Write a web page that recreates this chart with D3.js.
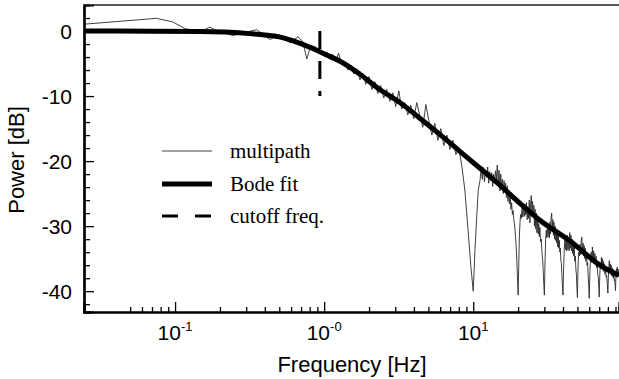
<!DOCTYPE html>
<html>
<head>
<meta charset="utf-8">
<script src="https://cdn.jsdelivr.net/npm/d3@7"></script>
<style>
  body { margin: 0; background: #fff; }
  svg { display: block; }
</style>
</head>
<body>
<div id="chart"></div>
<script>
// x tick decades and their labels
const xMajor = [0.1, 1, 10];
const xMajorExp = ["-1", "-0", "1"];
const xMinor = [0.05, 0.06, 0.07, 0.08, 0.09,
                0.2, 0.3, 0.4, 0.5, 0.6, 0.7, 0.8, 0.9,
                2, 3, 4, 5, 6, 7, 8, 9,
                20, 30, 40, 50, 60, 70, 80, 90];
const yMajor = [0, -10, -20, -30, -40];
const yMinor = [2, -2, -4, -6, -8, -12, -14, -16, -18, -22, -24, -26, -28,
                -32, -34, -36, -38, -42];

// Bode fit
const fitFreq = [0.0245, 0.07, 0.147, 0.233, 0.317, 0.40, 0.50, 0.59, 0.69, 0.80,
                 0.936, 1.09, 1.27, 1.73, 2.36, 3.22, 4.38, 5.97, 8.13, 11.1,
                 15.1, 20.6, 28.0, 44.6, 70.8, 95];
const fitDb = [0, -0.02, -0.08, -0.2, -0.4, -0.6, -0.9, -1.35, -1.9, -2.5,
               -3.2, -3.9, -4.6, -6.6, -9.0, -11.0, -13.4, -15.9, -18.5, -21.1,
               -23.7, -26.5, -29.1, -32.3, -36.0, -37.6];

// multipath measurement (Hz, dB)
const mpFreq = [0.0245, 0.075, 0.0965, 0.116, 0.135, 0.154, 0.171, 0.188, 0.216, 0.244,
  0.294, 0.353, 0.394, 0.432, 0.504, 0.545, 0.589, 0.666, 0.719, 0.765,
  0.814, 0.879, 0.936, 1.00, 1.04, 1.09, 1.14, 1.20, 1.25, 1.31,
  1.38, 1.44, 1.51, 1.58, 1.66, 1.74, 1.82, 1.90, 2.00, 2.09,
  2.19, 2.29, 2.40, 2.51, 2.63, 2.76, 2.89, 3.02, 3.17, 3.31,
  3.47, 3.64, 3.81, 3.99, 4.18, 4.38, 4.59, 4.81, 5.04, 5.28,
  5.53, 5.79, 6.06, 6.35, 6.66, 6.97, 7.30, 7.65, 8.01, 8.39,
  8.8, 9.2, 9.65, 10.0, 10.27, 10.55, 10.8,
  11.1, 11.3, 11.5, 11.7, 11.9, 12.1, 12.3, 12.5, 12.7, 12.9,
  13.1, 13.3, 13.5, 13.7, 13.9, 14.1, 14.3, 14.5, 14.7, 14.9,
  15.1, 15.3, 15.5, 15.7, 15.9, 16.1, 16.3, 16.5, 16.7, 16.9,
  17.1, 17.3, 17.5, 17.7, 17.9, 18.1, 18.3, 18.5, 18.7, 18.9,
  19.1, 19.3, 19.5, 19.7, 19.85, 20.0,
  20.2, 20.4, 20.6, 20.8, 21.0, 21.25, 21.5, 21.75, 22.0, 22.25,
  22.5, 22.75, 23.0, 23.25, 23.5, 23.75, 24.0, 24.25, 24.5, 24.75,
  25.0, 25.25, 25.5, 25.75, 26.0, 26.25, 26.5, 26.75, 27.0, 27.25,
  27.5, 27.75, 28.0, 28.3, 28.6, 28.9, 29.2, 29.5, 29.75, 30.0,
  30.3, 30.6, 30.9, 31.2, 31.5, 31.8, 32.1, 32.4, 32.7, 33.0,
  33.3, 33.6, 33.9, 34.2, 34.5, 34.8, 35.1, 35.4, 35.7, 36.0,
  36.3, 36.6, 36.9, 37.2, 37.5, 37.8, 38.1, 38.4, 38.7, 39.0,
  39.3, 39.6, 40.0,
  40.4, 40.8, 41.2, 41.6, 42.0, 42.4, 42.8, 43.2, 43.6, 44.0,
  44.4, 44.8, 45.2, 45.6, 46.0, 46.4, 46.8, 47.2, 47.6, 48.0,
  48.4, 48.8, 49.2, 49.6, 50.0,
  50.5, 51.0, 51.5, 52.0, 52.5, 53.0, 53.5, 54.0, 54.5, 55.0,
  55.5, 56.0, 56.5, 57.0, 57.5, 58.0, 58.5, 59.0, 59.5, 60.0,
  60.6, 61.2, 61.8, 62.4, 63.0, 63.6, 64.2, 64.8, 65.4, 66.0,
  66.6, 67.2, 67.8, 68.4, 69.0, 69.5, 70.0,
  70.6, 71.2, 71.8, 72.4, 73.0, 73.6, 74.2, 74.8, 75.4, 76.0,
  76.6, 77.2, 77.8, 78.4, 79.0, 79.5, 80.0,
  80.6, 81.2, 81.8, 82.4, 83.0, 83.6, 84.2, 84.8, 85.4, 86.0,
  86.6, 87.2, 87.8, 88.4, 89.0, 89.5, 90.0,
  90.6, 91.2, 91.8, 92.4, 93.0, 93.6, 94.2, 95.0];
const mpDb = [1.05, 1.95, 1.4, 0.4, 0.0, 0.1, 0.6, 0.1, -0.3, -0.7,
  -0.2, 0.2, -0.6, -1.3, -0.6, -1.2, -1.8, -0.9, -1.6, -4.3,
  -2.2, -2.5, -3.0, -3.6, -3.2, -4.3, -3.6, -4.5, -3.4, -5.2,
  -4.7, -6.0, -5.3, -6.6, -5.8, -7.5, -6.5, -8.2, -7.0, -9.0,
  -7.8, -9.6, -8.4, -10.3, -9.0, -10.8, -9.5, -11.6, -9.2, -12.0,
  -11.0, -12.9, -11.4, -13.5, -11.0, -13.0, -14.8, -11.3, -13.8, -16.0,
  -14.2, -16.8, -15.0, -17.6, -16.0, -18.2, -16.8, -19.0, -18.0, -20.8,
  -24.6, -30.2, -36.3, -40.0, -33.7, -28.6, -24.5,
  -23.0, -21.2, -22.8, -21.0, -23.2, -21.4, -22.5, -20.9, -23.4, -21.6,
  -23.0, -21.8, -23.9, -22.0, -23.4, -21.5, -22.8, -20.6, -23.6, -21.4,
  -24.6, -22.0, -24.2, -22.8, -25.0, -23.0, -24.8, -23.4, -25.6, -23.8,
  -26.2, -24.6, -26.6, -25.0, -27.4, -26.4, -28.2, -27.6, -29.0, -29.6,
  -30.8, -32.2, -34.0, -36.5, -38.8, -40.6,
  -36.0, -31.5, -29.4, -28.2, -28.8, -27.2, -28.6, -26.8, -28.5, -26.6,
  -28.3, -26.4, -29.0, -27.0, -28.8, -26.0, -29.5, -26.6, -25.3, -27.8,
  -26.2, -28.6, -26.8, -30.0, -27.4, -30.4, -28.0, -31.0, -28.6, -31.2,
  -29.6, -31.6, -30.2, -32.4, -32.0, -34.0, -35.0, -37.0, -39.0, -40.6,
  -35.5, -32.0, -30.6, -31.8, -29.5, -31.6, -29.8, -31.8, -29.4, -31.2,
  -28.6, -28.0, -30.8, -29.0, -31.4, -29.4, -32.0, -30.0, -32.2, -30.4,
  -32.6, -31.0, -33.2, -31.4, -33.4, -32.2, -34.0, -33.4, -35.4, -35.6,
  -37.4, -39.0, -40.6,
  -36.4, -33.4, -32.0, -33.6, -31.8, -33.8, -31.4, -33.6, -31.8, -33.8,
  -31.0, -33.4, -31.4, -33.8, -32.0, -34.2, -32.6, -34.6, -33.2, -35.4,
  -34.6, -36.6, -37.4, -39.5, -41.0,
  -36.0, -34.0, -34.6, -32.8, -34.4, -32.2, -31.7, -34.2, -32.6, -34.6,
  -33.0, -35.0, -33.4, -35.4, -34.2, -36.0, -35.6, -37.6, -39.2, -41.1,
  -37.0, -35.2, -34.0, -35.6, -33.2, -35.4, -33.8, -35.8, -34.2, -36.0,
  -34.6, -36.4, -35.6, -37.4, -37.8, -39.4, -40.9,
  -37.6, -35.8, -36.6, -34.8, -36.6, -35.0, -36.8, -35.4, -37.0, -35.8,
  -37.4, -36.2, -37.8, -37.6, -38.4, -39.2, -40.3,
  -37.8, -36.4, -35.3, -37.0, -35.8, -37.4, -36.0, -37.6, -36.4, -37.8,
  -36.6, -38.0, -37.2, -38.4, -38.2, -39.0, -39.9,
  -37.8, -36.6, -37.6, -36.3, -37.4, -36.6, -37.6, -36.8];

const cutoffFreq = 0.936;
const cutoffRange = [0, -10];

const legendLabels = ["multipath", "Bode fit", "cutoff freq."];

function init() {
    const width = 619, height = 379;
    const margin = {top: 5, right: 0, bottom: 67, left: 84};

    const svg = d3.select("#chart").append("svg")
        .attr("width", width)
        .attr("height", height);

    const x = d3.scaleLog()
        .domain([0.0245, 95])
        .range([margin.left, width - margin.right]);

    const y = d3.scaleLinear()
        .domain([-43.2, 4])
        .range([height - margin.bottom, margin.top]);

    svg.append("defs").append("clipPath").attr("id", "plotclip")
        .append("rect")
        .attr("x", margin.left).attr("y", margin.top)
        .attr("width", width - margin.left - margin.right)
        .attr("height", height - margin.top - margin.bottom);

    const plot = svg.append("g").attr("clip-path", "url(#plotclip)");

    const mpLine = d3.line()
        .x((d, i) => x(mpFreq[i]))
        .y(d => y(d));

    plot.append("path")
        .datum(mpDb)
        .attr("d", mpLine)
        .attr("fill", "none")
        .attr("stroke", "#2a2a2a")
        .attr("stroke-width", 0.9)
        .attr("stroke-linejoin", "round");

    const fitLine = d3.line()
        .x((d, i) => x(fitFreq[i]))
        .y(d => y(d))
        .curve(d3.curveMonotoneX);

    plot.append("path")
        .datum(fitDb)
        .attr("d", fitLine)
        .attr("fill", "none")
        .attr("stroke", "#000")
        .attr("stroke-width", 5);

    //cutoff marker
    plot.append("line")
        .attr("x1", x(cutoffFreq)).attr("x2", x(cutoffFreq))
        .attr("y1", y(cutoffRange[0])).attr("y2", y(cutoffRange[1]))
        .attr("stroke", "#000")
        .attr("stroke-width", 3)
        .attr("stroke-dasharray", "18,12");

    // axes: ticks pointing inward
    const gx = svg.append("g").attr("transform", `translate(0,${y.range()[0]})`);
    gx.call(d3.axisBottom(x).tickValues(xMinor).tickSize(-5).tickFormat(""));
    gx.call(g => g.append("g").call(d3.axisBottom(x).tickValues(xMajor).tickSize(-10).tickFormat("")));

    const gy = svg.append("g").attr("transform", `translate(${margin.left},0)`);
    gy.call(d3.axisLeft(y).tickValues(yMinor).tickSize(-6).tickFormat(""));
    gy.call(g => g.append("g").call(d3.axisLeft(y).tickValues(yMajor).tickSize(-10).tickFormat("")));

    svg.selectAll(".domain").attr("stroke", "#000").attr("stroke-width", 2.2);
    svg.selectAll(".tick line").attr("stroke", "#000").attr("stroke-width", 1.3);

    svg.append("line")
        .attr("x1", margin.left).attr("x2", width)
        .attr("y1", margin.top).attr("y2", margin.top)
        .attr("stroke", "#222").attr("stroke-width", 1.3);

    const sans = "'Liberation Sans', Arial, Helvetica, sans-serif";

    // x labels 10^n
    const xl = svg.append("g")
        .attr("font-family", sans)
        .attr("font-size", 21)
        .attr("fill", "#000");
    xMajor.forEach((v, i) => {
        const t = xl.append("text")
            .attr("x", x(v))
            .attr("y", 340)
            .attr("text-anchor", "middle");
        t.append("tspan").text("10");
        t.append("tspan").attr("dy", -9).attr("font-size", 13).text(xMajorExp[i]);
    });

    svg.append("g")
        .attr("font-family", sans)
        .attr("font-size", 21)
        .selectAll("text")
        .data(yMajor)
        .enter().append("text")
        .attr("x", 72)
        .attr("y", d => y(d))
        .attr("dy", "0.36em")
        .attr("text-anchor", "end")
        .text(d => d);

    svg.append("text")
        .attr("x", 352)
        .attr("y", 372)
        .attr("text-anchor", "middle")
        .attr("font-family", sans)
        .attr("font-size", 22)
        .text("Frequency [Hz]");

    svg.append("text")
        .attr("transform", "translate(24,160) rotate(-90)")
        .attr("text-anchor", "middle")
        .attr("font-family", sans)
        .attr("font-size", 22)
        .text("Power [dB]");

    // legend
    const legend = svg.append("g").attr("font-family", "'Liberation Serif', 'Times New Roman', serif");
    const rowY = [151, 184, 216];
    const styles = [
        {w: 0.9, dash: null, c: "#2a2a2a"},
        {w: 5, dash: null, c: "#000"},
        {w: 3, dash: "16,17", c: "#000"}
    ];
    legendLabels.forEach((lab, i) => {
        legend.append("line")
            .attr("x1", 162).attr("x2", 212)
            .attr("y1", rowY[i]).attr("y2", rowY[i])
            .attr("stroke", styles[i].c)
            .attr("stroke-width", styles[i].w)
            .attr("stroke-dasharray", styles[i].dash);
        legend.append("text")
            .attr("x", 230)
            .attr("y", rowY[i] + 7)
            .attr("font-size", 21)
            .text(lab);
    });
}
window.onload = init;
</script>
</body>
</html>
